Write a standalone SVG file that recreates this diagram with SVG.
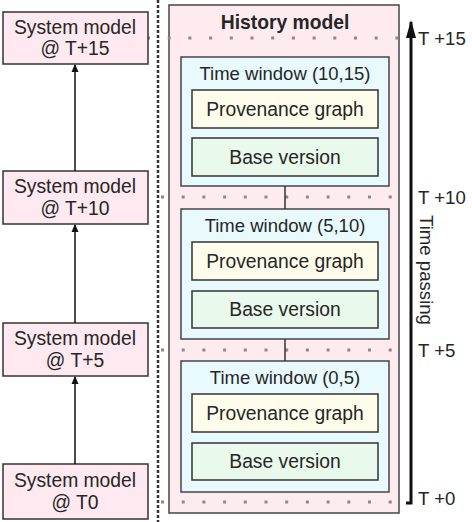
<svg xmlns="http://www.w3.org/2000/svg" width="472" height="522" viewBox="0 0 472 522">
<defs>
<style>
text{font-family:"Liberation Sans",Arial,sans-serif;fill:#262626;}
.sm{fill:#fde9ef;stroke:#333;stroke-width:1.5;}
.hm{fill:#fdebf0;stroke:#444;stroke-width:1.5;}
.tw{fill:#e8fafd;stroke:#444;stroke-width:1.5;}
.pg{fill:#fefdec;stroke:#333;stroke-width:1.5;}
.bv{fill:#e9f9ec;stroke:#333;stroke-width:1.5;}
.dots{stroke:#8a8a8a;stroke-width:3;stroke-dasharray:3 17.7;fill:none;}
.lbl{font-size:19.3px;text-anchor:middle;}
.ttl{font-size:18.5px;text-anchor:middle;}
.tl{font-size:18.6px;}
</style>
<marker id="ah" markerWidth="8" markerHeight="8" refX="7" refY="4" orient="auto" markerUnits="userSpaceOnUse">
<path d="M0,0.5 L8,4 L0,7.5 Z" fill="#111"/>
</marker>
<marker id="ahBig" markerWidth="18" markerHeight="10" refX="16" refY="5" orient="auto" markerUnits="userSpaceOnUse">
<path d="M0,0 L18,5 L0,10 Z" fill="#111"/>
</marker>
</defs>
<rect width="472" height="522" fill="#fff"/>

<g id="history-model">
<rect class="hm" x="169" y="5" width="230" height="508"/>
<text x="285" y="29" font-size="19.3" font-weight="bold" text-anchor="middle">History model</text>
</g>

<g id="dotted-lines">
<line x1="158" y1="0" x2="158" y2="522" stroke="#333" stroke-width="2.5" stroke-dasharray="3 2"/>
<line class="dots" x1="147" y1="38" x2="408" y2="38"/>
<line class="dots" x1="161" y1="197" x2="408" y2="197"/>
<line class="dots" x1="161" y1="350" x2="408" y2="350"/>
<line class="dots" x1="161" y1="502" x2="408" y2="502"/>
</g>

<g id="window-10-15">
<rect class="tw" x="181" y="57" width="208" height="129"/>
<text class="ttl" x="285" y="80">Time window (10,15)</text>
<rect class="pg" x="192" y="90" width="186" height="38"/>
<text class="lbl" x="285" y="116">Provenance graph</text>
<rect class="bv" x="192" y="138" width="186" height="38"/>
<text class="lbl" x="285" y="164">Base version</text>
</g>
<g id="window-5-10">
<rect class="tw" x="181" y="209" width="208" height="130"/>
<text class="ttl" x="285" y="232">Time window (5,10)</text>
<rect class="pg" x="192" y="242" width="186" height="38"/>
<text class="lbl" x="285" y="268">Provenance graph</text>
<rect class="bv" x="192" y="291" width="186" height="37"/>
<text class="lbl" x="285" y="316">Base version</text>
</g>
<g id="window-0-5">
<rect class="tw" x="181" y="361" width="208" height="131"/>
<text class="ttl" x="285" y="384">Time window (0,5)</text>
<rect class="pg" x="192" y="394" width="186" height="38"/>
<text class="lbl" x="285" y="420">Provenance graph</text>
<rect class="bv" x="192" y="443" width="186" height="37"/>
<text class="lbl" x="285" y="468">Base version</text>
</g>

<g id="sm-15">
<rect class="sm" x="3" y="12" width="145" height="52"/>
<text class="lbl" x="75" y="34">System model</text>
<text class="lbl" x="75" y="55">@ T+15</text>
</g>
<g id="sm-10">
<rect class="sm" x="3" y="171" width="145" height="53"/>
<text class="lbl" x="75" y="193">System model</text>
<text class="lbl" x="75" y="215">@ T+10</text>
</g>
<g id="sm-5">
<rect class="sm" x="3" y="323" width="145" height="53"/>
<text class="lbl" x="75" y="345">System model</text>
<text class="lbl" x="75" y="367">@ T+5</text>
</g>
<g id="sm-0">
<rect class="sm" x="3" y="464" width="145" height="55"/>
<text class="lbl" x="75" y="487">System model</text>
<text class="lbl" x="75" y="509">@ T0</text>
</g>

<g id="time-axis">
<text class="tl" x="418" y="45">T +15</text>
<text class="tl" x="418" y="204">T +10</text>
<text class="tl" x="418" y="357">T +5</text>
<text class="tl" x="418" y="505">T +0</text>
<text class="tl" transform="translate(420,270) rotate(90)" text-anchor="middle">Time passing</text>
</g>

<g id="connectors" fill="none" stroke="#111">
<line x1="75" y1="171" x2="75" y2="65" stroke-width="1.5" marker-end="url(#ah)"/>
<line x1="75" y1="323" x2="75" y2="225" stroke-width="1.5" marker-end="url(#ah)"/>
<line x1="75" y1="464" x2="75" y2="377" stroke-width="1.5" marker-end="url(#ah)"/>
<line x1="285" y1="186" x2="285" y2="209" stroke="#333" stroke-width="1.5"/>
<line x1="285" y1="339" x2="285" y2="361" stroke="#333" stroke-width="1.5"/>
<polyline points="406,503 411,503 411,22" stroke-width="3" marker-end="url(#ahBig)"/>
</g>
</svg>
